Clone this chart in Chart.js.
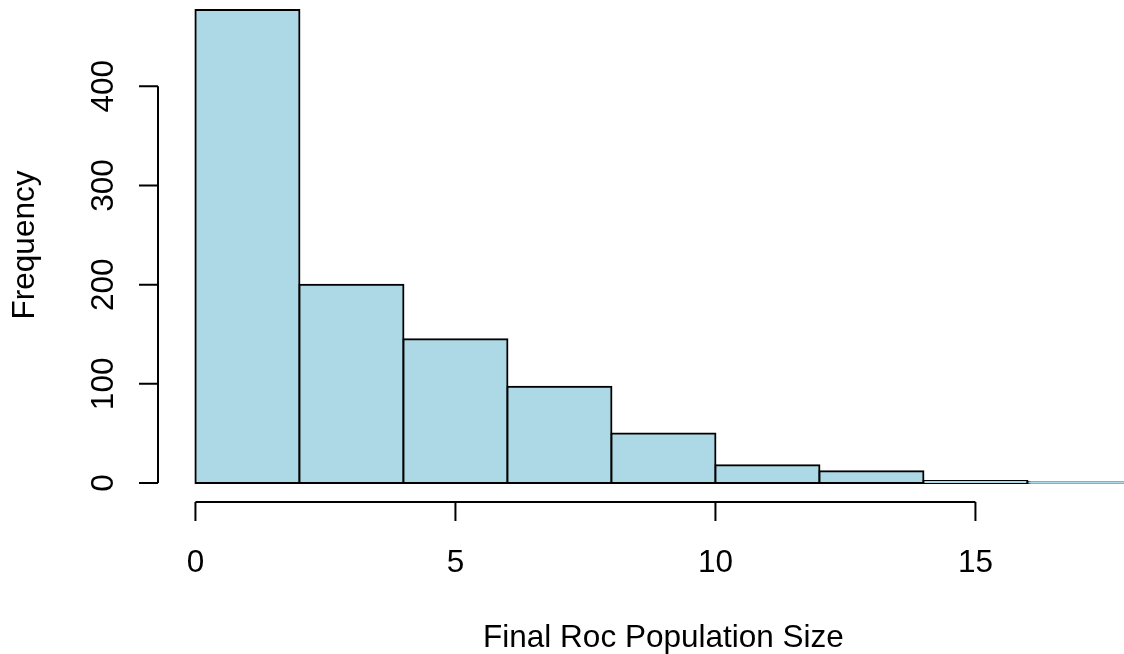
<!DOCTYPE html>
<html>
<head>
<meta charset="utf-8">
<title>Final Roc Population Size</title>
<script src="https://cdn.jsdelivr.net/npm/chart.js@4"></script>
<style>
  html, body { margin: 0; padding: 0; background: #fff; overflow: hidden; }
  canvas { display: block; }
</style>
</head>
<body>
<canvas id="hist" width="1124" height="654"></canvas>
<script>
// histogram bins (edges) and counts
const binEdges = [0, 2, 4, 6, 8, 10, 12, 14, 16, 18];
const counts = [477, 200, 145, 97, 50, 18, 12, 2, 1];
const xTicks = [0, 5, 10, 15];
const yTicks = [0, 100, 200, 300, 400];
const xTitle = 'Final Roc Population Size';
const yTitle = 'Frequency';

const FONT = '31.5px "Liberation Sans", Arial, Helvetica, sans-serif';

const bars = counts.map((c, i) => ({ x: (binEdges[i] + binEdges[i + 1]) / 2, y: c }));

// R-style detached axes, drawn from the chart's own scales
const rAxes = {
    id: 'rAxes',
    afterDraw(chart) {
        const { ctx, chartArea } = chart;
        const xs = chart.scales.x, ys = chart.scales.y;
        ctx.save();
        ctx.strokeStyle = '#000';
        ctx.fillStyle = '#000';
        ctx.lineWidth = 2;
        ctx.font = FONT;

        // x axis
        const yLine = chartArea.bottom;
        const x0 = xs.getPixelForValue(xTicks[0]);
        const x1 = xs.getPixelForValue(xTicks[xTicks.length - 1]);
        ctx.beginPath();
        ctx.moveTo(x0, yLine);
        ctx.lineTo(x1, yLine);
        xTicks.forEach(v => {
            const px = xs.getPixelForValue(v);
            ctx.moveTo(px, yLine);
            ctx.lineTo(px, yLine + 19);
        });
        ctx.stroke();
        ctx.textAlign = 'center';
        ctx.textBaseline = 'alphabetic';
        xTicks.forEach(v => {
            ctx.fillText(String(v), xs.getPixelForValue(v), yLine + 70);
        });
        ctx.fillText(xTitle, (chartArea.left + xs.getPixelForValue(18.72)) / 2, yLine + 145);

        // y axis
        const xLine = chartArea.left;
        const y0 = ys.getPixelForValue(yTicks[0]);
        const y1 = ys.getPixelForValue(yTicks[yTicks.length - 1]);
        ctx.beginPath();
        ctx.moveTo(xLine, y0);
        ctx.lineTo(xLine, y1);
        yTicks.forEach(v => {
            const py = ys.getPixelForValue(v);
            ctx.moveTo(xLine, py);
            ctx.lineTo(xLine - 19, py);
        });
        ctx.stroke();
        yTicks.forEach(v => {
            ctx.save();
            ctx.translate(xLine - 45, ys.getPixelForValue(v));
            ctx.rotate(-Math.PI / 2);
            ctx.fillText(String(v), 0, 0);
            ctx.restore();
        });
        ctx.save();
        ctx.translate(xLine - 124, ys.getPixelForValue(240));
        ctx.rotate(-Math.PI / 2);
        ctx.fillText(yTitle, 0, 0);
        ctx.restore();

        ctx.restore();
    }
};

const chart = new Chart(document.getElementById('hist'), {
    type: 'bar',
    data: {
        datasets: [{
            label: yTitle,
            data: bars,
            backgroundColor: '#ADD8E6',
            borderColor: '#000',
            borderWidth: 2,
            inflateAmount: 1,
            borderSkipped: false,
            categoryPercentage: 1,
            barPercentage: 1
        }]
    },
    options: {
        responsive: false,
        animation: false,
        devicePixelRatio: 1,
        layout: { padding: { left: 158, right: 0, top: 0, bottom: 152 } },
        plugins: {
            legend: { display: false },
            tooltip: { enabled: false },
            title: { display: false }
        },
        scales: {
            x: {
                type: 'linear',
                display: false,
                offset: false,
                grid: { offset: false },
                min: -0.72,
                max: 17.857,
                afterBuildTicks: s => { s.ticks = xTicks.map(v => ({ value: v })); }
            },
            y: {
                type: 'linear',
                display: false,
                min: -19.1,
                max: 487,
                afterBuildTicks: s => { s.ticks = yTicks.map(v => ({ value: v })); }
            }
        }
    },
    plugins: [rAxes]
});
</script>
</body>
</html>
